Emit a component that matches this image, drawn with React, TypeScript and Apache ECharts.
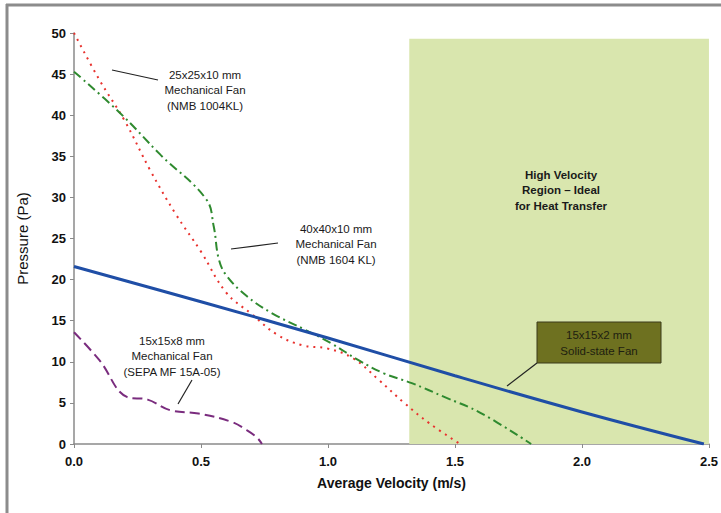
import React, { useEffect, useRef } from "react";
import * as echarts from "echarts";

const xTicks = [0, 0.5, 1.0, 1.5, 2.0, 2.5];
const yTicks = [0, 5, 10, 15, 20, 25, 30, 35, 40, 45, 50];

// 25x25x10 mm Mechanical Fan (NMB 1004KL) - red dotted
const nmb1004X = [0, 0.1, 0.2, 0.3, 0.4, 0.5, 0.6, 0.7, 0.8, 0.9, 1.0, 1.1, 1.2, 1.3, 1.4, 1.52];
const nmb1004Y = [50, 44.3, 39.3, 33.3, 28, 23.4, 18.4, 15.8, 13.3, 12, 11.6, 10.4, 7.8, 5, 2.5, 0];

// 40x40x10 mm Mechanical Fan (NMB 1604 KL) - green dash-dot
const nmb1604X = [0, 0.18, 0.34, 0.52, 0.55, 0.57, 0.6, 0.68, 0.78, 0.91, 1.01, 1.12, 1.22, 1.33, 1.46, 1.6, 1.8];
const nmb1604Y = [45.3, 40.3, 35.2, 29.8, 26.5, 22.5, 20.5, 18, 15.9, 13.9, 12.3, 10.2, 8.6, 7.4, 5.7, 3.8, 0];

// 15x15x2 mm Solid-state Fan - blue solid
const solidX = [0, 0.5, 1.0, 1.5, 2.0, 2.48];
const solidY = [21.6, 17.3, 12.9, 8.3, 3.9, 0];

// 15x15x8 mm Mechanical Fan (SEPA MF 15A-05) - purple dashed
const sepaX = [0, 0.1, 0.21, 0.29, 0.38, 0.49, 0.62, 0.68, 0.72, 0.74];
const sepaY = [13.6, 10.2, 5.7, 5.4, 4.1, 3.7, 2.7, 1.7, 0.8, 0];

// High velocity region
const regionX = [1.32, 2.5];
const regionY = [0, 49.3];

const zip = (xs: number[], ys: number[]) => xs.map((x, i) => [x, ys[i]]);

export default function App() {
  const ref = useRef<HTMLDivElement>(null);
  useEffect(() => {
    if (!ref.current) return;
    const chart = echarts.init(ref.current, undefined, { renderer: "svg" });
    const font = "Liberation Sans, Arial, sans-serif";
    const annText = (x: number, y: number, text: string, bold = false, fill = "#1a1a1a") => ({
      type: "text",
      x,
      y,
      z: 100,
      style: {
        text,
        fill,
        font: `${bold ? "bold " : ""}11.5px ${font}`,
        align: "center",
        verticalAlign: "middle",
        lineHeight: 15.5,
      },
    });
    const leader = (x1: number, y1: number, x2: number, y2: number) => ({
      type: "line",
      z: 100,
      shape: { x1, y1, x2, y2 },
      style: { stroke: "#222", lineWidth: 1.2 },
    });
    chart.setOption({
      animation: false,
      backgroundColor: "#ffffff",
      grid: { left: 74, right: 12, top: 33, bottom: 69 },
      xAxis: {
        type: "value",
        min: 0,
        max: 2.5,
        interval: 0.5,
        name: "Average Velocity (m/s)",
        nameLocation: "middle",
        nameGap: 32,
        nameTextStyle: { fontFamily: font, fontWeight: "bold", fontSize: 14, color: "#111" },
        axisLine: { show: true, lineStyle: { color: "#8a8a8a", width: 1.5 } },
        axisTick: { show: true, length: 4, lineStyle: { color: "#8a8a8a" } },
        axisLabel: {
          margin: 11,
          fontFamily: font,
          fontWeight: "bold",
          fontSize: 13,
          color: "#111",
          formatter: (v: number) => (xTicks.includes(v) ? v.toFixed(1) : ""),
        },
        splitLine: { show: false },
      },
      yAxis: {
        type: "value",
        min: 0,
        max: 50,
        interval: 5,
        name: "Pressure (Pa)",
        nameLocation: "middle",
        nameGap: 44,
        nameTextStyle: { fontFamily: font, fontWeight: "normal", fontSize: 15, color: "#111" },
        axisLine: { show: true, lineStyle: { color: "#8a8a8a", width: 1.5 } },
        axisTick: { show: true, length: 4, lineStyle: { color: "#8a8a8a" } },
        axisLabel: {
          margin: 8,
          fontFamily: font,
          fontWeight: "bold",
          fontSize: 13,
          color: "#111",
          formatter: (v: number) => (yTicks.includes(v) ? String(v) : ""),
        },
        splitLine: { show: false },
      },
      series: [
        {
          type: "line",
          name: "region",
          data: [],
          silent: true,
          markArea: {
            silent: true,
            itemStyle: { color: "#d9e6ae" },
            data: [[{ coord: [regionX[0], regionY[1]] }, { coord: [regionX[1], regionY[0]] }]],
          },
        },
        {
          type: "line",
          name: "NMB 1004KL",
          data: zip(nmb1004X, nmb1004Y),
          smooth: 0.4,
          symbol: "none",
          lineStyle: { color: "#e8322e", width: 2, type: [2, 5] },
        },
        {
          type: "line",
          name: "NMB 1604 KL",
          data: zip(nmb1604X, nmb1604Y),
          smooth: 0.4,
          symbol: "none",
          lineStyle: { color: "#2f8a2f", width: 2, type: [9, 4, 2, 4] },
        },
        {
          type: "line",
          name: "Solid-state",
          data: zip(solidX, solidY),
          smooth: 0.4,
          symbol: "none",
          lineStyle: { color: "#1f4ea6", width: 3 },
        },
        {
          type: "line",
          name: "SEPA",
          data: zip(sepaX, sepaY),
          smooth: 0.4,
          symbol: "none",
          lineStyle: { color: "#7a2c7e", width: 2, type: [10, 5] },
        },
      ],
      graphic: [
        { type: "line", shape: { x1: 6, y1: 5, x2: 721, y2: 5 }, style: { stroke: "#8c8c8c", lineWidth: 3 } },
        { type: "line", shape: { x1: 7, y1: 4, x2: 7, y2: 513 }, style: { stroke: "#8c8c8c", lineWidth: 3 } },
        annText(205, 90, "25x25x10 mm\nMechanical Fan\n(NMB 1004KL)"),
        leader(112, 70, 158, 80),
        annText(336, 244, "40x40x10 mm\nMechanical Fan\n(NMB 1604 KL)"),
        leader(231, 249, 278, 243),
        annText(172, 356, "15x15x8 mm\nMechanical Fan\n(SEPA MF 15A-05)"),
        leader(178, 404, 192, 380),
        annText(561, 190, "High Velocity\nRegion – Ideal\nfor Heat Transfer", true),
        {
          type: "rect",
          z: 100,
          shape: { x: 537, y: 322, width: 124, height: 41 },
          style: { fill: "#6e7120", stroke: "#3a3a1a", lineWidth: 1 },
        },
        annText(599, 343, "15x15x2 mm\nSolid-state Fan", false, "#1e1e10"),
        leader(537, 363, 507, 386),
      ],
    });
    return () => chart.dispose();
  }, []);
  return <div ref={ref} style={{ width: 721, height: 513, position: "absolute", left: 0, top: 0 }} />;
}
